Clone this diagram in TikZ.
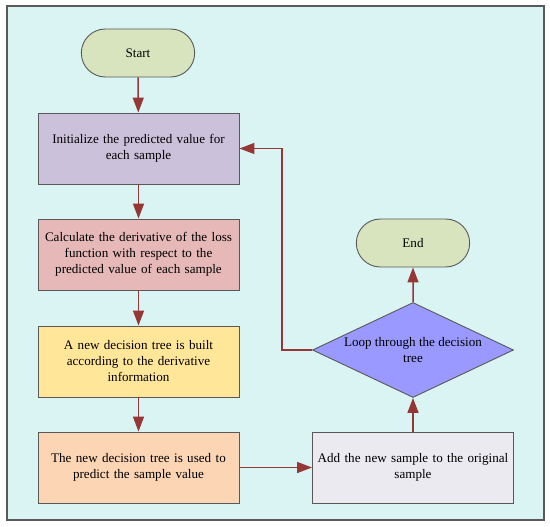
\documentclass[tikz,border=0pt]{standalone}
\usepackage{fontspec}
\setmainfont{Liberation Serif}
\usetikzlibrary{arrows.meta,shapes.geometric,shapes.misc}
\definecolor{bgc}{HTML}{DAF3F3}
\definecolor{termc}{HTML}{D7E4BD}
\definecolor{initc}{HTML}{CCC1DA}
\definecolor{calcc}{HTML}{E6B9B8}
\definecolor{treec}{HTML}{FFE699}
\definecolor{predc}{HTML}{FCD5B5}
\definecolor{addc}{HTML}{ECEAF1}
\definecolor{diac}{HTML}{9999FF}
\definecolor{arrc}{HTML}{953735}
\definecolor{bordc}{HTML}{595959}
\tikzset{
  boxnode/.style={draw=bordc, line width=0.9pt, minimum width=201pt, minimum height=71pt, text width=196pt, align=center, font=\fontsize{13.1}{16}\selectfont, inner sep=0pt},
  termnode/.style={draw=bordc, line width=0.9pt, rounded rectangle, minimum width=120pt, minimum height=48pt, fill=termc, font=\fontsize{13.1}{16}\selectfont},
  dianode/.style={draw=bordc, line width=0.9pt, diamond, aspect=2.1, minimum width=201pt, minimum height=95pt, fill=diac, align=center, font=\fontsize{13.1}{16}\selectfont, inner sep=0pt},
  conn/.style={draw=arrc, line width=1.5pt, -{Triangle[length=15pt,width=11pt]}}
}
\begin{document}
\begin{tikzpicture}[x=1pt,y=-1pt]
\useasboundingbox (0,0) rectangle (550,527);
\fill[white] (0,0) rectangle (550,527);
\draw[bordc, line width=1.2pt, fill=bgc] (7,6) rectangle (544,520);
\node[termnode] (start) at (138,53) {Start};
\node[boxnode, fill=initc] (init) at (138.5,148.5) {Initialize the predicted value for\\each sample};
\node[boxnode, fill=calcc] (calc) at (138.5,254.5) {Calculate the derivative of the loss\\function with respect to the\\predicted value of each sample};
\node[boxnode, fill=treec] (tree) at (138.5,361.5) {A new decision tree is built\\according to the derivative\\information};
\node[boxnode, fill=predc] (pred) at (138.5,467.5) {The new decision tree is used to\\predict the sample value};
\node[boxnode, fill=addc] (add) at (413,467.5) {Add the new sample to the original\\sample};
\node[dianode] (loop) at (413,350) {Loop through the decision\\tree};
\node[termnode] (end) at (413,243) {End};
\coordinate (c1) at (282,350);
\coordinate (c2) at (282,148.5);
\draw[conn] (start) -- (init);
\draw[conn] (init) -- (calc);
\draw[conn] (calc) -- (tree);
\draw[conn] (tree) -- (pred);
\draw[conn] (pred) -- (add);
\draw[conn] (add) -- (loop);
\draw[conn] (loop) -- (end);
\draw[conn] (loop.west) -- (c1) -- (c2) -- (init.east);
\end{tikzpicture}
\end{document}
